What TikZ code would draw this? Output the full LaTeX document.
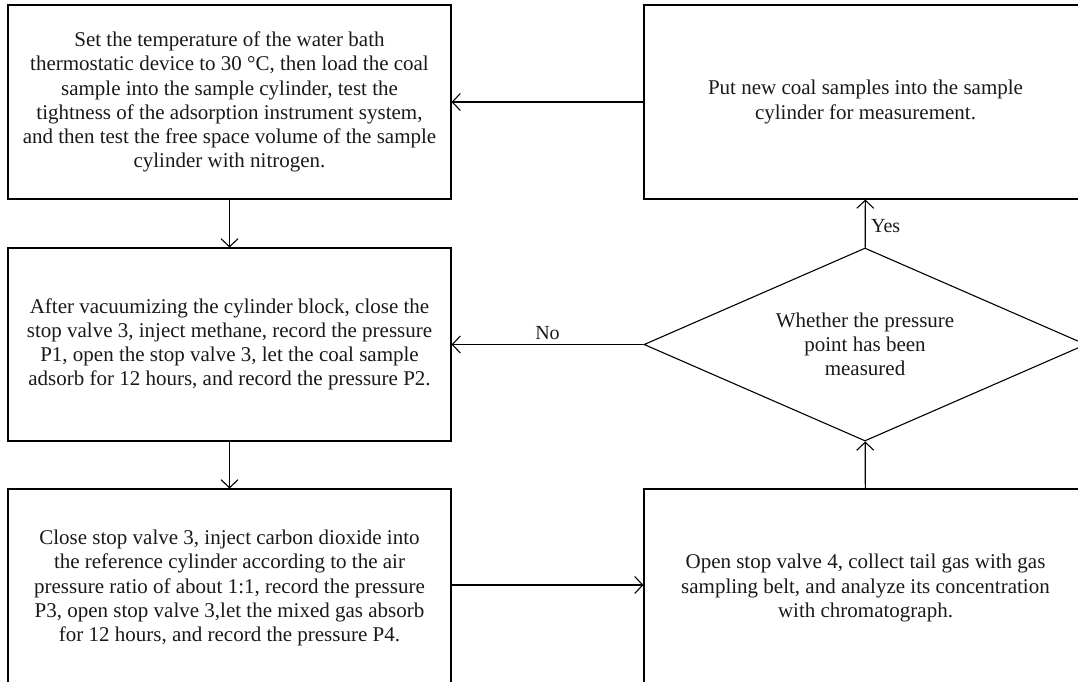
\documentclass[tikz,border=0pt]{standalone}
\usepackage{fontspec}
\setmainfont{Liberation Serif}
\usetikzlibrary{arrows.meta,shapes.geometric}
\begin{document}
\begin{tikzpicture}[x=1pt,y=-1pt,
  every node/.style={font=\fontsize{21}{24.2}\selectfont, text=black!90},
  box/.style={draw, line width=1.1pt, rectangle, minimum width=443pt, minimum height=194pt, inner sep=0pt, align=center},
  lowbox/.style={box, minimum height=198pt},
  dec/.style={draw, line width=1.1pt, diamond, aspect=2.29, minimum width=442pt, minimum height=193pt, inner sep=0pt, align=center},
  conn/.style={line width=1.1pt, -{Straight Barb[length=8pt,width=17pt,line width=1.1pt]}},
  lbl/.style={font=\fontsize{20}{22}\selectfont}]
\useasboundingbox (0,0) rectangle (1078,681);
\node[box] (A) at (229.5,102) {Set the temperature of the water bath\\thermostatic device to 30 °C, then load the coal\\sample into the sample cylinder, test the\\tightness of the adsorption instrument system,\\and then test the free space volume of the sample\\cylinder with nitrogen.};
\node[box, minimum height=193pt] (B) at (229.5,344.5) {After vacuumizing the cylinder block, close the\\stop valve 3, inject methane, record the pressure\\P1, open the stop valve 3, let the coal sample\\adsorb for 12 hours, and record the pressure P2.};
\node[lowbox] (C) at (229.5,588) {Close stop valve 3, inject carbon dioxide into\\the reference cylinder according to the air\\pressure ratio of about 1:1, record the pressure\\P3, open stop valve 3,let the mixed gas absorb\\for 12 hours, and record the pressure P4.};
\node[box] (D) at (865.5,102) {Put new coal samples into the sample\\cylinder for measurement.};
\node[dec] (W) at (865,344.5) {Whether the pressure\\point has been\\measured};
\node[lowbox] (E) at (865.5,588) {Open stop valve 4, collect tail gas with gas\\sampling belt, and analyze its concentration\\with chromatograph.};
\draw[conn] (A) -- (B);
\draw[conn] (B) -- (C);
\draw[conn] (D) -- (A);
\draw[conn] (W) -- node[lbl, above=1pt, pos=0.5] {No} (B);
\draw[conn] (W) -- node[lbl, right=2pt, pos=0.45] {Yes} (D);
\draw[conn] ([yshift=3pt]C.east) -- ([yshift=3pt]E.west);
\draw[conn] (E) -- (W);
\end{tikzpicture}
\end{document}
